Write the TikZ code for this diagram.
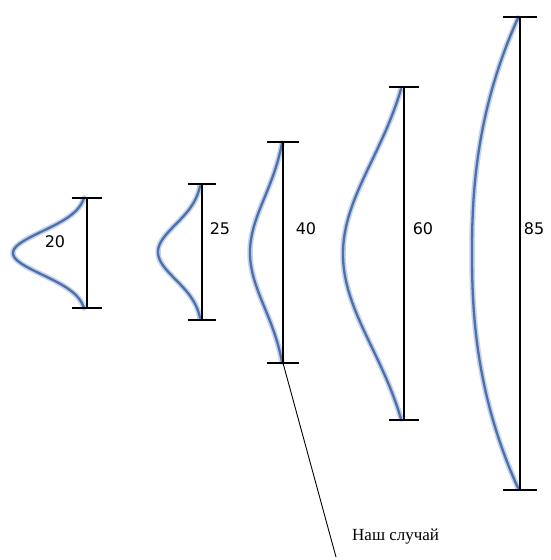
\documentclass[tikz,border=0pt]{standalone}
\usepackage{fontspec}
\setmainfont{Liberation Serif}
\newfontfamily\lblfont{DejaVu Sans}
\definecolor{curvecol}{RGB}{78,112,168}
\definecolor{glowcol}{RGB}{180,200,232}
\begin{document}
\begin{tikzpicture}[x=1pt,y=-1pt,
  bar/.style={black,line width=1.1pt},
  tick/.style={black,line width=1.1pt},
  glow/.style={glowcol,line width=5.5pt,line cap=round,opacity=0.8},
  bell/.style={curvecol,line width=2.3pt,line cap=round},
  num/.style={font=\lblfont\fontsize{16}{16}\selectfont,inner sep=0pt},
  note/.style={font=\fontsize{17}{17}\selectfont,inner sep=0pt}]
\useasboundingbox (0,0) rectangle (550,560);
% bars: coordinates
\coordinate (t20) at (87,198); \coordinate (b20) at (87,308);
\coordinate (t25) at (202,184); \coordinate (b25) at (202,320);
\coordinate (t40) at (283,142); \coordinate (b40) at (283,363);
\coordinate (t60) at (404,87); \coordinate (b60) at (404,420);
\coordinate (t85) at (520,17); \coordinate (b85) at (520,490);
% curves (glow + line)
\foreach \st in {glow,bell}{
  % 20
  \draw[\st] plot[domain=-1:1,samples=80,smooth] ({84-71*(exp(-(1.8*\x)^2)-exp(-3.24))/(1-exp(-3.24))},{253+55*\x});
  % 25
  \draw[\st] plot[domain=-1:1,samples=80,smooth] ({200-42*(exp(-(1.7*\x)^2)-exp(-2.89))/(1-exp(-2.89))},{252+66*\x});
  % 40
  \draw[\st] plot[domain=-1:1,samples=80,smooth] ({282-32*(exp(-(1.4*\x)^2)-exp(-1.96))/(1-exp(-1.96))},{252.5+109.5*\x});
  % 60
  \draw[\st] plot[domain=-1:1,samples=80,smooth] ({401-58*(exp(-(1.25*\x)^2)-exp(-1.5625))/(1-exp(-1.5625))},{254+165*\x});
  % 85
  \draw[\st] plot[domain=-1:1,samples=80,smooth] ({518-46*(1-abs(\x)^2.3)},{253+235*\x});
}
% bars and ticks
\foreach \n/\w in {20/15,25/14,40/16,60/15,85/17}{
  \draw[bar] (t\n) -- (b\n);
  \draw[tick] ([xshift=-\w]t\n) -- ([xshift=\w]t\n);
  \draw[tick] ([xshift=-\w]b\n) -- ([xshift=\w]b\n);
}
% labels
\node[num] (l20) at (55,242) {20};
\node[num] (l25) at (220,229) {25};
\node[num] (l40) at (306,229) {40};
\node[num] (l60) at (423,229) {60};
\node[num] (l85) at (534,229) {85};
% pointer
\coordinate (pend) at (336,557);
\draw[black,line width=0.9pt] (b40) -- (pend);
\node[note,anchor=west] (ours) at (352,537) {Наш случай};
\end{tikzpicture}
\end{document}
